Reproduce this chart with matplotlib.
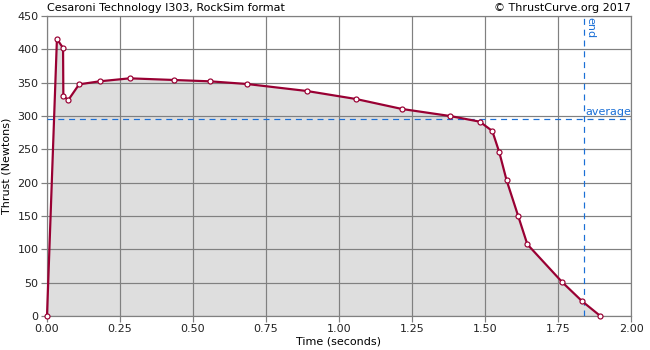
import matplotlib
matplotlib.use("Agg")
import matplotlib.pyplot as plt

time_s = [0.0, 0.034, 0.055, 0.056, 0.073, 0.110, 0.180, 0.283, 0.436, 0.558, 0.685,
          0.890, 1.058, 1.216, 1.380, 1.482, 1.525, 1.549, 1.574, 1.614, 1.645,
          1.765, 1.833, 1.895]
thrust_n = [0.0, 415.5, 402.0, 330.0, 324.0, 347.5, 352.0, 356.5, 354.0, 352.0, 348.0,
            337.5, 325.5, 310.5, 300.0, 291.5, 277.5, 245.5, 203.5, 149.5, 107.5,
            50.5, 22.0, 0.0]
average_thrust = 295.0
burn_end = 1.84
x_ticks = [0.0, 0.25, 0.5, 0.75, 1.0, 1.25, 1.5, 1.75, 2.0]
x_tick_labels = ["0.00", "0.25", "0.50", "0.75", "1.00", "1.25", "1.50", "1.75", "2.00"]
y_ticks = [0, 50, 100, 150, 200, 250, 300, 350, 400, 450]
title_left = "Cesaroni Technology I303, RockSim format"
title_right = "\u00a9 ThrustCurve.org 2017"

plt.rcParams['font.family'] = ['DejaVu Sans']
fig = plt.figure(figsize=(6.5, 3.5), dpi=100)
ax = fig.add_axes([47/650, 1 - 316/350, (631-47)/650, (316-16)/350])

grid_c = "#808080"
line_c = "#990033"
blue = "#1a6fd6"
fs = 8
px = 0.72  # one pixel in points at 100 dpi

ax.fill_between(time_s, thrust_n, 0, color="#dedede", zorder=1, linewidth=0)
ax.set_xlim(0, 2.0)
ax.set_ylim(0, 450)
ax.set_xticks(x_ticks)
ax.set_xticklabels(x_tick_labels)
ax.set_yticks(y_ticks)
ax.grid(True, color=grid_c, linewidth=1.2 * px, zorder=2)
ax.set_axisbelow(False)
for s in ax.spines.values():
    s.set_color(grid_c)
    s.set_linewidth(1.2 * px)
ax.tick_params(axis='both', colors=grid_c, labelcolor="#222222", labelsize=fs,
               length=4, width=1.2 * px, pad=2)

ax.axhline(average_thrust, color=blue, linestyle=(0, (5, 4)), linewidth=1.2 * px, zorder=3)
ax.axvline(burn_end, color=blue, linestyle=(0, (5, 4)), linewidth=1.2 * px, zorder=3)
ax.text(burn_end + 0.003, average_thrust + 3, "average", color=blue, fontsize=fs,
        ha="left", va="bottom", zorder=5)
ax.text(burn_end + 0.005, 448, "end", color=blue, fontsize=fs, rotation=-90,
        ha="left", va="top", zorder=5)

ax.plot(time_s, thrust_n, color=line_c, linewidth=2.2 * px, zorder=6,
        marker="o", markersize=5 * px, markerfacecolor="white", markeredgecolor=line_c,
        markeredgewidth=1.2 * px, clip_on=False)

fig.text(339/650, 1 - 342/350, "Time (seconds)", fontsize=fs, ha="center", va="center")
fig.text(7/650, 1 - 166/350, "Thrust (Newtons)", fontsize=fs, ha="center", va="center",
         rotation=90)
fig.text(47/650, 1 - 8/350, title_left, fontsize=fs, ha="left", va="center")
fig.text(631/650, 1 - 8/350, title_right, fontsize=fs, ha="right", va="center")

fig.savefig("out.png", dpi=100)
